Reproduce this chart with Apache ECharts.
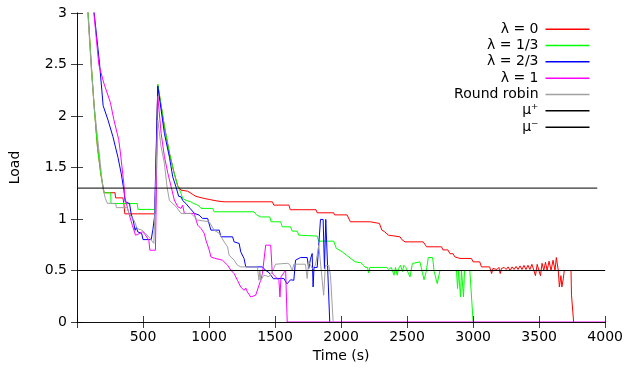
<!DOCTYPE html>
<html>
<head>
<meta charset="utf-8">
<script src="https://cdn.jsdelivr.net/npm/echarts@6/dist/echarts.min.js"></script>
<style>
  html, body { margin: 0; padding: 0; background: #fff; }
  #main { width: 626px; height: 371px; }
</style>
</head>
<body>
<div id="main"></div>
<script>
// [time (s), load]
const lambda0 = [
  [60, 3.5], [84, 3.0], [109, 2.48], [130, 2.09], [155, 1.70], [180, 1.44], [205, 1.255],
  [288, 1.255], [292, 1.205], [348, 1.205], [355, 1.15], [362, 1.05], [590, 1.05],
  [612, 2.30], [662, 1.90], [700, 1.64], [737, 1.44], [763, 1.32], [788, 1.28], [838, 1.27],
  [850, 1.255], [900, 1.22], [960, 1.2], [1001, 1.19], [1060, 1.175], [1114, 1.167],
  [1480, 1.167], [1490, 1.135], [1605, 1.135], [1615, 1.09], [1810, 1.09], [1819, 1.06],
  [1944, 1.06], [1950, 1.04], [2045, 1.04], [2070, 0.973], [2220, 0.973], [2230, 0.957],
  [2290, 0.957], [2309, 0.892], [2330, 0.876], [2359, 0.843], [2446, 0.827], [2460, 0.80],
  [2484, 0.778], [2622, 0.778], [2648, 0.73], [2761, 0.73], [2771, 0.70], [2809, 0.70],
  [2824, 0.663], [2847, 0.663], [2862, 0.632], [2900, 0.617], [2987, 0.617], [3000, 0.584],
  [3050, 0.584], [3063, 0.535], [3125, 0.535], [3140, 0.47], [3150, 0.52], [3165, 0.53],
  [3180, 0.51], [3195, 0.53], [3205, 0.47], [3215, 0.52], [3235, 0.53], [3250, 0.51],
  [3265, 0.535], [3280, 0.5], [3295, 0.535], [3310, 0.51], [3325, 0.54], [3340, 0.51],
  [3355, 0.545], [3370, 0.51], [3385, 0.55], [3400, 0.51], [3415, 0.55], [3430, 0.51],
  [3445, 0.56], [3460, 0.5], [3472, 0.45], [3485, 0.56], [3498, 0.5], [3510, 0.45],
  [3522, 0.57], [3535, 0.5], [3548, 0.58], [3560, 0.5], [3575, 0.59], [3590, 0.5],
  [3605, 0.6], [3620, 0.5], [3630, 0.626], [3645, 0.5], [3653, 0.34], [3665, 0.45],
  [3672, 0.34], [3683, 0.42], [3690, 0.5], [3741, 0.5], [3745, 0.26], [3761, 0]
];
const lambda13 = [
  [60, 3.5], [84, 3.0], [109, 2.48], [130, 2.09], [155, 1.70], [180, 1.44], [205, 1.255],
  [255, 1.255], [258, 1.15], [456, 1.15], [462, 1.093], [587, 1.093], [595, 1.05],
  [612, 2.31], [662, 1.90], [700, 1.64], [737, 1.44], [763, 1.32], [788, 1.25], [800, 1.2],
  [826, 1.18], [863, 1.167], [880, 1.152], [895, 1.17], [905, 1.14], [926, 1.125],
  [939, 1.103], [1027, 1.103], [1039, 1.07], [1340, 1.07], [1360, 1.04], [1391, 1.02],
  [1460, 1.02], [1470, 0.973], [1542, 0.973], [1555, 0.924], [1617, 0.924], [1630, 0.882],
  [1668, 0.882], [1680, 0.843], [1693, 0.834], [1819, 0.834], [1830, 0.785], [1944, 0.785],
  [1964, 0.714], [1974, 0.72], [1985, 0.70], [2000, 0.705], [2010, 0.68], [2040, 0.65],
  [2060, 0.63], [2107, 0.584], [2150, 0.575], [2170, 0.55], [2183, 0.53], [2200, 0.53],
  [2208, 0.477], [2218, 0.53], [2346, 0.53], [2360, 0.51], [2380, 0.53], [2401, 0.454],
  [2412, 0.53], [2425, 0.454], [2435, 0.52], [2450, 0.55], [2465, 0.49], [2475, 0.55],
  [2490, 0.53], [2505, 0.53], [2522, 0.438], [2540, 0.568], [2597, 0.584], [2610, 0.574],
  [2628, 0.41], [2645, 0.49], [2660, 0.626], [2693, 0.626], [2705, 0.49], [2728, 0.373],
  [2749, 0.5], [2874, 0.5], [2882, 0.325], [2890, 0.5], [2904, 0.243], [2912, 0.5],
  [2927, 0.243], [2935, 0.5], [2975, 0.5], [3000, 0]
];
const lambda23 = [
  [110, 3.5], [130, 3.0], [170, 2.52], [198, 2.1], [235, 1.96], [272, 1.8], [310, 1.6],
  [335, 1.44], [355, 1.28], [365, 1.167], [398, 1.15], [410, 1.05], [425, 0.99], [432, 1.0],
  [440, 0.89], [450, 0.92], [460, 0.875], [490, 0.86], [500, 0.80], [562, 0.80], [575, 0.9],
  [587, 1.02], [612, 2.29], [662, 1.83], [700, 1.60], [725, 1.41], [750, 1.31], [770, 1.22],
  [788, 1.216], [800, 1.18], [825, 1.15], [858, 1.10], [890, 1.054], [905, 1.05],
  [925, 1.038], [950, 1.006], [989, 1.006], [1014, 0.892], [1077, 0.892], [1090, 0.827],
  [1178, 0.827], [1190, 0.778], [1228, 0.763], [1240, 0.681], [1265, 0.617], [1278, 0.535],
  [1404, 0.535], [1430, 0.5], [1454, 0.48], [1487, 0.42], [1567, 0.422], [1590, 0.37],
  [1617, 0.41], [1642, 0.405], [1655, 0.6], [1693, 0.626], [1743, 0.626], [1755, 0.52],
  [1768, 0.61], [1781, 0.665], [1788, 0.34], [1795, 0.53], [1819, 0.53], [1844, 0.996],
  [1864, 0.996], [1874, 0.52], [1884, 0.996], [1894, 0.996], [1914, 0]
];
const lambda1 = [
  [100, 3.5], [128, 3.0], [165, 2.5], [203, 2.32], [253, 2.13], [279, 1.965], [316, 1.77],
  [329, 1.64], [354, 1.35], [362, 1.216], [374, 1.15], [394, 1.05], [419, 0.94],
  [443, 0.843], [460, 0.85], [494, 0.876], [510, 0.86], [544, 0.795], [552, 0.697],
  [594, 0.697], [612, 2.19], [637, 1.833], [662, 1.605], [688, 1.444], [713, 1.313],
  [737, 1.184], [763, 1.119], [788, 1.103], [800, 1.135], [813, 1.054], [888, 1.054],
  [900, 1.0], [914, 0.94], [939, 0.908], [964, 0.86], [976, 0.795], [1001, 0.70],
  [1014, 0.632], [1039, 0.62], [1102, 0.60], [1140, 0.552], [1165, 0.503], [1190, 0.47],
  [1215, 0.405], [1240, 0.34], [1252, 0.35], [1265, 0.308], [1278, 0.33], [1290, 0.292],
  [1316, 0.243], [1328, 0.228], [1353, 0.26], [1391, 0.405], [1404, 0.47], [1429, 0.746],
  [1467, 0.746], [1479, 0.47], [1504, 0.438], [1529, 0.405], [1537, 0.243], [1545, 0.438],
  [1580, 0.503], [1592, 0], [4000, 0]
];
const roundRobin = [
  [60, 3.5], [82, 3.0], [110, 2.42], [130, 2.1], [155, 1.8], [180, 1.5], [195, 1.3],
  [215, 1.2], [230, 1.152], [293, 1.152], [298, 1.11], [381, 1.11], [393, 1.054],
  [431, 0.99], [456, 0.908], [495, 0.89], [519, 0.86], [544, 0.827], [582, 0.763],
  [590, 0.76], [612, 1.96], [637, 1.70], [662, 1.54], [682, 1.31], [700, 1.18], [750, 1.12],
  [788, 1.054], [863, 1.054], [914, 0.99], [1001, 0.973], [1039, 0.892], [1077, 0.86],
  [1114, 0.778], [1140, 0.73], [1152, 0.649], [1190, 0.60], [1215, 0.552], [1240, 0.535],
  [1366, 0.535], [1378, 0.405], [1385, 0.50], [1392, 0.405], [1416, 0.454], [1454, 0.44],
  [1479, 0.486], [1504, 0.561], [1592, 0.57], [1610, 0.561], [1630, 0.50], [1642, 0.561],
  [1730, 0.561], [1743, 0.422], [1755, 0.584], [1781, 0.52], [1806, 0.55], [1831, 0.746],
  [1844, 0.746], [1868, 0.26], [1881, 0.55], [1906, 0.55], [1920, 0.45], [1940, 0]
];
const muPlus = [[0, 1.3], [3940, 1.3]];
const muMinus = [[0, 0.5], [4000, 0.5]];

const names = ["λ = 0", "λ = 1/3", "λ = 2/3", "λ = 1", "Round robin", "μ⁺", "μ⁻"];
const colors = ["#ff0000", "#00ff00", "#0000ff", "#ff00ff", "#a0a0a0", "#000000", "#000000"];
const seriesData = [lambda0, lambda13, lambda23, lambda1, roundRobin, muPlus, muMinus];

const font = "DejaVu Sans";
const boxColor = "rgba(0,0,0,0.75)";

const chart = echarts.init(document.getElementById("main"));

const axisBase = {
  axisLine: { show: true, lineStyle: { color: boxColor, width: 1 } },
  axisTick: { show: true, inside: true, length: 6, lineStyle: { color: boxColor } },
  splitLine: { show: false },
  z: 5,
};

chart.setOption({
  animation: false,
  backgroundColor: "#fff",
  grid: { left: 76, right: 20, top: 13, bottom: 49 },
  legend: {
    orient: "vertical",
    align: "right",
    right: 31.5,
    top: 16,
    icon: "rect",
    itemWidth: 44,
    itemHeight: 1.5,
    itemGap: 0,
    textStyle: {
      fontFamily: font,
      fontSize: 14,
      color: "#000",
      lineHeight: 16.33,
      padding: [0, 2, 0, 0],
    },
    data: names,
  },
  xAxis: [
    {
      ...axisBase,
      type: "value",
      min: 0,
      max: 4000,
      interval: 500,
      name: "Time (s)",
      nameLocation: "middle",
      nameGap: 22,
      nameTextStyle: { fontFamily: font, fontSize: 14, color: "#000" },
      axisLabel: {
        fontFamily: font,
        fontSize: 14,
        color: "#000",
        margin: 8,
        formatter: (v) => (v === 0 ? "" : String(v)),
      },
    },
    {
      ...axisBase,
      type: "value",
      position: "top",
      min: 0,
      max: 4000,
      interval: 500,
      axisLabel: { show: false },
    },
  ],
  yAxis: [
    {
      ...axisBase,
      type: "value",
      min: 0,
      max: 3,
      interval: 0.5,
      name: "Load",
      nameLocation: "middle",
      nameGap: 55,
      nameRotate: 90,
      nameTextStyle: { fontFamily: font, fontSize: 14, color: "#000" },
      axisLabel: { fontFamily: font, fontSize: 14, color: "#000", margin: 10 },
    },
    {
      ...axisBase,
      type: "value",
      position: "right",
      min: 0,
      max: 3,
      interval: 0.5,
      axisLabel: { show: false },
    },
  ],
  series: seriesData.map((d, i) => ({
    name: names[i],
    type: "line",
    data: d,
    symbol: "none",
    showSymbol: false,
    clip: true,
    lineStyle: { color: colors[i], width: 1 },
    itemStyle: { color: colors[i] },
  })),
});

window.addEventListener("resize", () => chart.resize());
</script>
</body>
</html>
